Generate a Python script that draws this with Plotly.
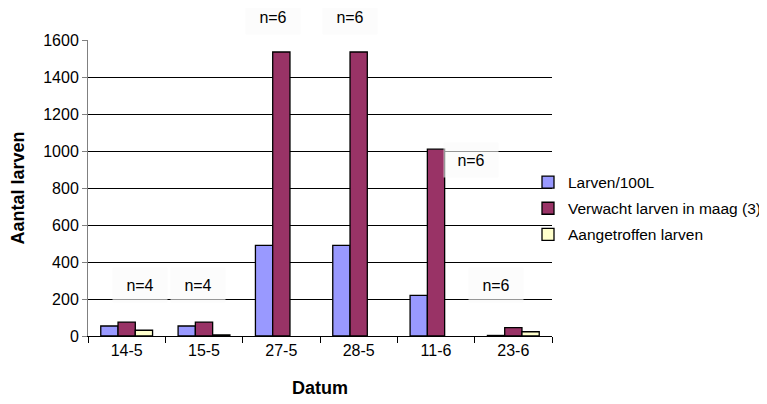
import plotly.graph_objects as go

categories = ["14-5", "15-5", "27-5", "28-5", "11-6", "23-6"]
larven_100l = [54, 54, 490, 490, 220, 3]
verwacht = [75, 75, 1535, 1535, 1010, 45]
aangetroffen = [31, 6, None, None, None, 23]
n_labels = ["n=4", "n=4", "n=6", "n=6", "n=6", "n=6"]
n_label_value = [276, 276, 1724, 1724, 951, 276]
n_label_shift = [13, -6, -8, -9, 35, -17]

series_names = ["Larven/100L", "Verwacht larven in maag (3)", "Aangetroffen larven"]
series_colors = ["#9999FF", "#993366", "#FFFFCC"]
series_values = [larven_100l, verwacht, aangetroffen]

y_max = 1600
font_family = "Liberation Sans, Arial, sans-serif"

fig = go.Figure()
for i, (name, color, vals) in enumerate(zip(series_names, series_colors, series_values)):
    fig.add_trace(go.Bar(
        x=categories, y=vals, name=name,
        marker=dict(color=color, line=dict(color="black", width=1.3)),
        legendgroup=f"g{i}",
    ))

for cat, txt, yv, sh in zip(categories, n_labels, n_label_value, n_label_shift):
    fig.add_annotation(
        x=cat, y=yv / y_max, xref="x", yref="paper", text=txt, showarrow=False,
        xanchor="center", yanchor="middle",
        xshift=sh, bgcolor="rgba(250,250,250,0.6)",
        width=52, height=32,
        font=dict(family=font_family, size=16, color="black"),
    )

# page body has an 8px offset, so the figure is sized to fit the window
W, H = 759, 396
L, R, T, B = 80, 215, 32, 68
plot_w = W - L - R
plot_h = H - T - B
legend_center = (182 + 235) / 2 - 8
legend_left_px = 520

fig.update_layout(
    width=W, height=H,
    margin=dict(l=L, r=R, t=T, b=B, autoexpand=False),
    paper_bgcolor="white", plot_bgcolor="white",
    barmode="group", bargap=0.33, bargroupgap=0,
    font=dict(family=font_family, size=16, color="black"),
    legend=dict(
        xref="paper", yref="paper",
        x=(legend_left_px - L) / plot_w, xanchor="left",
        y=(H - B - legend_center) / plot_h, yanchor="middle",
        font=dict(family=font_family, size=15.5, color="black"),
        bgcolor="rgba(0,0,0,0)", itemwidth=30,
        traceorder="grouped", tracegroupgap=3,
    ),
    xaxis=dict(
        type="category", automargin=False,
        title=dict(text="<b>Datum</b>", font=dict(size=18), standoff=23),
        tickfont=dict(size=16),
        showline=True, linecolor="black", linewidth=1,
        ticks="outside", ticklen=6, tickcolor="black", tickson="boundaries",
        showgrid=False,
    ),
    yaxis=dict(
        automargin=False,
        title=dict(text="<b>Aantal larven</b>", font=dict(size=18), standoff=28),
        tickfont=dict(size=16),
        range=[0, y_max], dtick=200,
        showline=True, linecolor="#808080", linewidth=1,
        ticks="outside", ticklen=5, tickcolor="#808080",
        showgrid=True, gridcolor="black", gridwidth=1,
        zeroline=False,
    ),
)

fig.write_html("out.html")
